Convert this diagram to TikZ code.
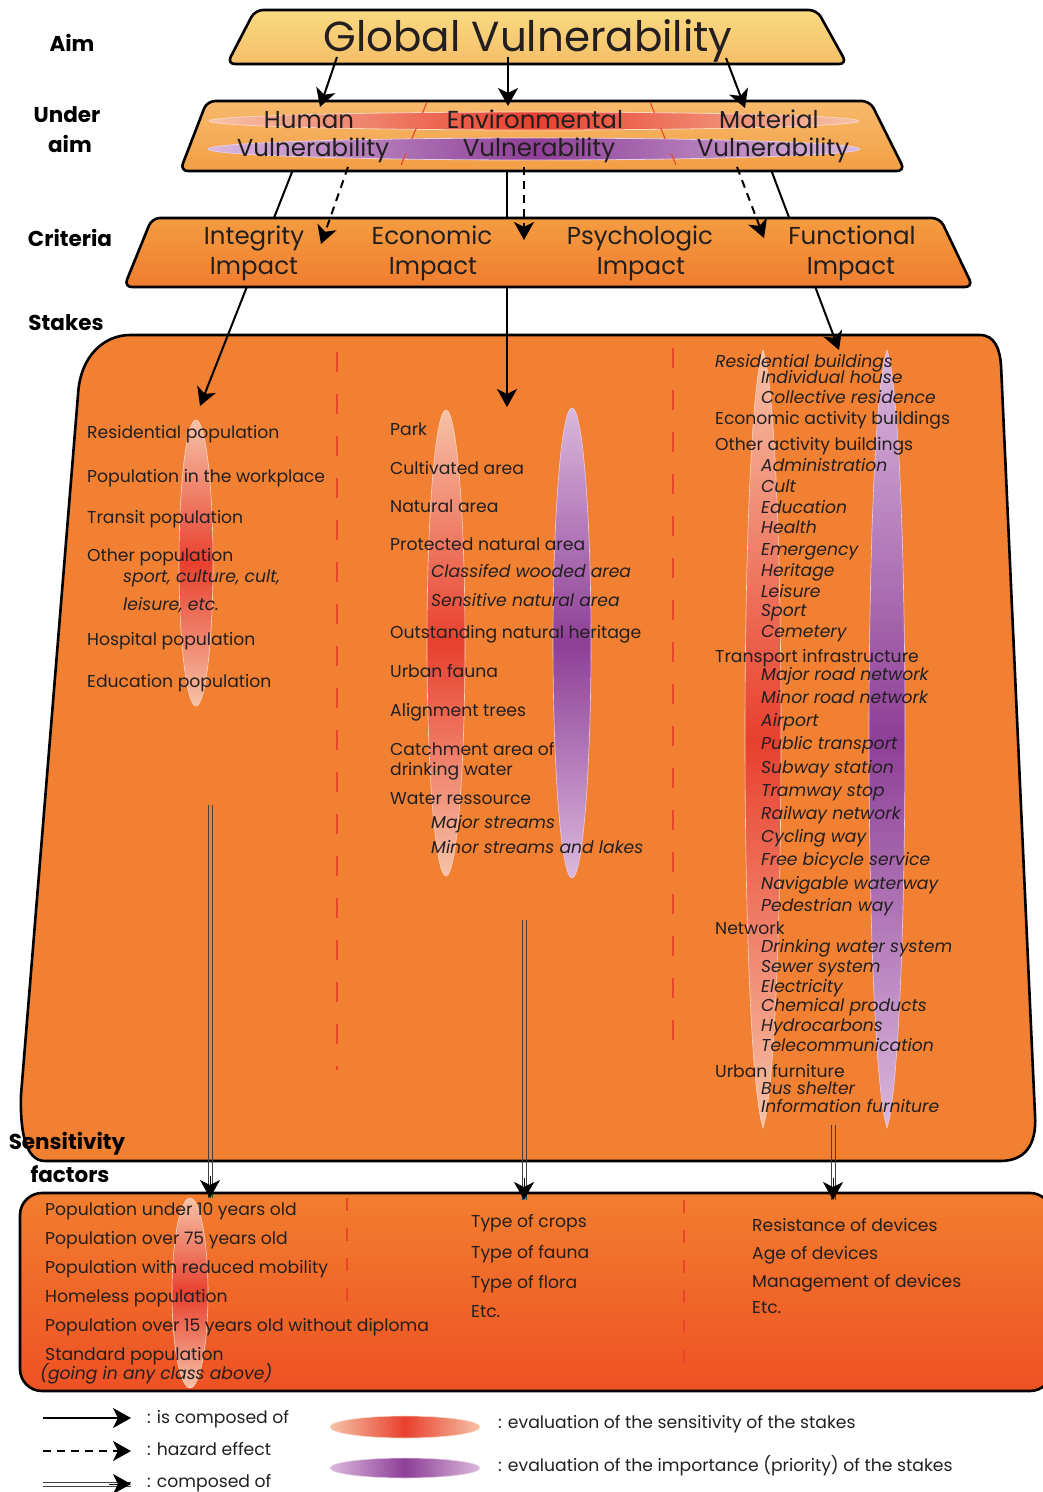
\documentclass[tikz,border=0pt]{standalone}
\usepackage{fontspec}
\setmainfont{Poppins}
\usetikzlibrary{arrows.meta}

\definecolor{gvtop}{HTML}{FADA82}
\definecolor{gvbot}{HTML}{F4BE68}
\definecolor{uatop}{HTML}{F7BA6C}
\definecolor{uabot}{HTML}{F39E44}
\definecolor{crtop}{HTML}{F49C40}
\definecolor{crbot}{HTML}{F07D30}
\definecolor{stkfill}{HTML}{F18032}
\definecolor{sftop}{HTML}{F27E2E}
\definecolor{sfbot}{HTML}{EE5124}
\definecolor{sensred}{HTML}{E8402E}
\definecolor{senslight}{HTML}{F6C2A6}
\definecolor{prioviolet}{HTML}{8E3F97}
\definecolor{priolight}{HTML}{DAB8DC}
\definecolor{sepred}{HTML}{E9452D}
\definecolor{ink}{HTML}{231F20}

\tikzset{
    >={Stealth[length=18pt, width=20pt, inset=5pt]},
    box/.style={draw=black, line width=2.6pt, rounded corners=8},
    lab/.style={font=\fontsize{21.5}{25}\selectfont\bfseries, text=black, inner sep=0},
    head/.style={font=\fontsize{24.5}{29}\selectfont, text=ink, inner sep=0,
        text height=17pt, text depth=0pt},
    stk/.style={anchor=west, font=\fontsize{17.2}{20}\selectfont, text=ink,
        inner sep=0, text height=12pt, text depth=0pt},
    stkit/.style={stk, font=\fontsize{17.2}{20}\selectfont\itshape},
    sep/.style={draw=sepred, line width=1.1pt},
    link/.style={draw=black, line width=2pt, ->},
    hazard/.style={link, dash pattern=on 8pt off 6pt},
    twin/.style={draw=black!75, line width=0.8pt}
}

\begin{document}
\begin{tikzpicture}[x=1pt, y=-1pt]
\useasboundingbox (0,0) rectangle (1043,1492);

% stakes box
    \fill[stkfill] (130,335) -- (980,335) .. controls (995,335) and (1000,350) .. (1001,365)
        -- (1035,1115) .. controls (1037,1145) and (1025,1161) .. (1000,1161)
        -- (45,1161) .. controls (25,1161) and (20,1130) .. (21,1095)
        -- (78,395) .. controls (80,355) and (105,335) .. (130,335) -- cycle;
    \draw[line width=2.6pt] (130,335) -- (980,335) .. controls (995,335) and (1000,350) .. (1001,365)
        -- (1035,1115) .. controls (1037,1145) and (1025,1161) .. (1000,1161)
        -- (45,1161) .. controls (25,1161) and (20,1130) .. (21,1095)
        -- (78,395) .. controls (80,355) and (105,335) .. (130,335) -- cycle;

% sensitivity factors box
    \shade[top color=sftop, bottom color=sfbot, rounded corners=22]
        (20,1193) rectangle (1052,1391);
    \draw[line width=2.6pt, rounded corners=22] (20,1193) rectangle (1052,1391);

% composed-of lines, behind the criteria box
    \coordinate (uh-out) at (294,167);
    \coordinate (ue-out) at (507,167);
    \coordinate (um-out) at (770,167);
    \coordinate (st-h) at (200,406);
    \coordinate (st-e) at (507,407);
    \coordinate (st-m) at (839,350);
    \draw[link] (uh-out) -- (st-h);
    \draw[link] (ue-out) -- (st-e);
    \draw[link] (um-out) -- (st-m);

% aim
    \shade[top color=gvtop, bottom color=gvbot, rounded corners=8]
        (255,10) -- (817,10) -- (847,64) -- (227,64) -- cycle;
    \draw[box] (255,10) -- (817,10) -- (847,64) -- (227,64) -- cycle;
    \node[font=\fontsize{42}{48}\selectfont, text=ink, inner sep=0,
        text height=29pt, text depth=0pt] (gv) at (528,37) {Global Vulnerability};

% under aim
    \shade[top color=uatop, bottom color=uabot, rounded corners=8]
        (207,101) -- (870,101) -- (905,171) -- (180,171) -- cycle;
    \draw[box] (207,101) -- (870,101) -- (905,171) -- (180,171) -- cycle;
    \shade[left color=senslight, right color=senslight, middle color=sensred,
        draw=senslight!70!white, line width=0.8pt] (534,121) ellipse [x radius=325, y radius=9];
    \shade[left color=priolight, right color=priolight, middle color=prioviolet,
        draw=priolight!70!white, line width=0.8pt] (534,149) ellipse [x radius=326, y radius=11];
    \draw[sep, dash pattern=on 12pt off 16pt] (427,102) -- (399,170);
    \draw[sep, dash pattern=on 12pt off 16pt] (650,102) -- (678,170);
    \node[head] (hum) at (309,120) {Human};
    \node[head] (env) at (535,120) {Environmental};
    \node[head] (mat) at (769,120) {Material};
    \node[head] (hum-v) at (313,148) {Vulnerability};
    \node[head] (env-v) at (539,148) {Vulnerability};
    \node[head] (mat-v) at (773,148) {Vulnerability};

% criteria
    \shade[top color=crtop, bottom color=crbot, rounded corners=8]
        (152,218) -- (940,218) -- (973,287) -- (124,287) -- cycle;
    \draw[box] (152,218) -- (940,218) -- (973,287) -- (124,287) -- cycle;
    \node[head] (int) at (254,236) {Integrity};
    \node[head] (int-i) at (254,266) {Impact};
    \node[head] (eco) at (432,236) {Economic};
    \node[head] (eco-i) at (433,266) {Impact};
    \node[head] (psy) at (640,236) {Psychologic};
    \node[head] (psy-i) at (641,266) {Impact};
    \node[head] (fun) at (852,236) {Functional};
    \node[head] (fun-i) at (851,266) {Impact};

% is composed of
    \coordinate (gv-h) at (337,57);
    \coordinate (gv-e) at (508,57);
    \coordinate (gv-m) at (726,58);
    \coordinate (ua-h) at (320,107);
    \coordinate (ua-e) at (508,106);
    \coordinate (ua-m) at (745,108);
    \draw[link] (gv-h) -- (ua-h);
    \draw[link] (gv-e) -- (ua-e);
    \draw[link] (gv-m) -- (ua-m);

% hazard effect
    \coordinate (hz-h0) at (348,167);
    \coordinate (hz-e0) at (524,167);
    \coordinate (hz-m0) at (737,167);
    \coordinate (hz-h1) at (321,244);
    \coordinate (hz-e1) at (524,240);
    \coordinate (hz-m1) at (764,238);
    \draw[hazard] (hz-h0) -- (hz-h1);
    \draw[hazard] (hz-e0) -- (hz-e1);
    \draw[hazard] (hz-m0) -- (hz-m1);

% left labels
    \node[lab] (l-aim) at (72,43) {Aim};
    \node[lab] (l-under) at (67,115) {Under};
    \node[lab] (l-under2) at (70,144) {aim};
    \node[lab] (l-crit) at (70,238) {Criteria};
    \node[lab] (l-stakes) at (66,323) {Stakes};

% stakes: sensitivity and priority marks
    \shade[top color=senslight, bottom color=senslight, middle color=sensred,
        draw=senslight!70!white, line width=0.6pt] (196,563) ellipse [x radius=17, y radius=143];
    \shade[top color=senslight, bottom color=senslight, middle color=sensred,
        draw=senslight!70!white, line width=0.6pt] (446,643) ellipse [x radius=19, y radius=233];
    \shade[top color=priolight, bottom color=priolight, middle color=prioviolet,
        draw=priolight!70!white, line width=0.6pt] (572,643) ellipse [x radius=19, y radius=235];
    \shade[top color=senslight, bottom color=senslight, middle color=sensred,
        draw=senslight!70!white, line width=0.6pt]
        (763,350) .. controls (787,420) and (787,1050) .. (763,1128)
        .. controls (739,1050) and (739,420) .. (763,350) -- cycle;
    \shade[top color=priolight, bottom color=priolight, middle color=prioviolet,
        draw=priolight!70!white, line width=0.6pt]
        (887,350) .. controls (911,420) and (911,1050) .. (887,1128)
        .. controls (863,1050) and (863,420) .. (887,350) -- cycle;

% stakes: column separators
    \draw[sep, dash pattern=on 20pt off 22pt] (337,352) -- (337,1070);
    \draw[sep, dash pattern=on 20pt off 22pt] (673,348) -- (673,1060);

% stakes: human
    \node[stk] (hs1) at (87,432) {Residential population};
    \node[stk] (hs2) at (87,476) {Population in the workplace};
    \node[stk] (hs3) at (87,517) {Transit population};
    \node[stk] (hs4) at (87,555) {Other population};
    \node[stkit] (hs4a) at (123,576) {sport, culture, cult,};
    \node[stkit] (hs4b) at (123,604) {leisure, etc.};
    \node[stk] (hs5) at (87,639) {Hospital population};
    \node[stk] (hs6) at (87,681) {Education population};

% stakes: environmental
    \node[stk] (es1) at (390,429) {Park};
    \node[stk] (es2) at (390,468) {Cultivated area};
    \node[stk] (es3) at (390,506) {Natural area};
    \node[stk] (es4) at (390,544) {Protected natural area};
    \node[stkit] (es4a) at (431,571) {Classifed wooded area};
    \node[stkit] (es4b) at (431,600) {Sensitive natural area};
    \node[stk] (es5) at (390,632) {Outstanding natural heritage};
    \node[stk] (es6) at (390,671) {Urban fauna};
    \node[stk] (es7) at (390,710) {Alignment trees};
    \node[stk] (es8) at (390,749) {Catchment area of};
    \node[stk] (es8b) at (390,769) {drinking water};
    \node[stk] (es9) at (390,798) {Water ressource};
    \node[stkit] (es9a) at (431,822) {Major streams};
    \node[stkit] (es9b) at (431,847) {Minor streams and lakes};

% stakes: material
    \node[stkit] (ms1) at (715,361) {Residential buildings};
    \node[stkit] (ms1a) at (761,377) {Individual house};
    \node[stkit] (ms1b) at (761,397) {Collective residence};
    \node[stk] (ms2) at (715,418) {Economic activity buildings};
    \node[stk] (ms3) at (715,444) {Other activity buildings};
    \node[stkit] (ms3a) at (761,465) {Administration};
    \node[stkit] (ms3b) at (761,486) {Cult};
    \node[stkit] (ms3c) at (761,507) {Education};
    \node[stkit] (ms3d) at (761,527) {Health};
    \node[stkit] (ms3e) at (761,549) {Emergency};
    \node[stkit] (ms3f) at (761,570) {Heritage};
    \node[stkit] (ms3g) at (761,591) {Leisure};
    \node[stkit] (ms3h) at (761,610) {Sport};
    \node[stkit] (ms3i) at (761,631) {Cemetery};
    \node[stk] (ms4) at (715,656) {Transport infrastructure};
    \node[stkit] (ms4a) at (761,674) {Major road network};
    \node[stkit] (ms4b) at (761,697) {Minor road network};
    \node[stkit] (ms4c) at (761,720) {Airport};
    \node[stkit] (ms4d) at (761,743) {Public transport};
    \node[stkit] (ms4e) at (761,767) {Subway station};
    \node[stkit] (ms4f) at (761,790) {Tramway stop};
    \node[stkit] (ms4g) at (761,813) {Railway network};
    \node[stkit] (ms4h) at (761,836) {Cycling way};
    \node[stkit] (ms4i) at (761,859) {Free bicycle service};
    \node[stkit] (ms4j) at (761,883) {Navigable waterway};
    \node[stkit] (ms4k) at (761,905) {Pedestrian way};
    \node[stk] (ms5) at (715,928) {Network};
    \node[stkit] (ms5a) at (761,946) {Drinking water system};
    \node[stkit] (ms5b) at (761,966) {Sewer system};
    \node[stkit] (ms5c) at (761,986) {Electricity};
    \node[stkit] (ms5d) at (761,1005) {Chemical products};
    \node[stkit] (ms5e) at (761,1025) {Hydrocarbons};
    \node[stkit] (ms5f) at (761,1045) {Telecommunication};
    \node[stk] (ms6) at (715,1071) {Urban furniture};
    \node[stkit] (ms6a) at (761,1088) {Bus shelter};
    \node[stkit] (ms6b) at (761,1106) {Information furniture};

% sensitivity factors
    \node[lab] (l-sens) at (67,1144) {Sensitivity};
    \node[lab] (l-sens2) at (70,1174) {factors};
    \shade[top color=senslight, bottom color=senslight, middle color=sensred,
        draw=senslight!70!white, line width=0.6pt] (190,1293) ellipse [x radius=18, y radius=95];
    \draw[sep, dash pattern=on 13pt off 17pt] (347,1198) -- (347,1305);
    \draw[sep, dash pattern=on 13pt off 17pt] (684,1200) -- (684,1372);

    \node[stk] (hf1) at (45,1209) {Population under 10 years old};
    \node[stk] (hf2) at (45,1238) {Population over 75 years old};
    \node[stk] (hf3) at (45,1267) {Population with reduced mobility};
    \node[stk] (hf4) at (45,1296) {Homeless population};
    \node[stk] (hf5) at (45,1325) {Population over 15 years old without diploma};
    \node[stk] (hf6) at (45,1354) {Standard population};
    \node[stkit] (hf6a) at (40,1373) {(going in any class above)};

    \node[stk] (ef1) at (471,1221) {Type of crops};
    \node[stk] (ef2) at (471,1252) {Type of fauna};
    \node[stk] (ef3) at (471,1282) {Type of flora};
    \node[stk] (ef4) at (471,1311) {Etc.};

    \node[stk] (mf1) at (752,1225) {Resistance of devices};
    \node[stk] (mf2) at (752,1253) {Age of devices};
    \node[stk] (mf3) at (752,1281) {Management of devices};
    \node[stk] (mf4) at (752,1307) {Etc.};

% composed of
    \coordinate (d1a) at (210,805);
    \coordinate (d1b) at (210,1198);
    \coordinate (d2a) at (524,920);
    \coordinate (d2b) at (524,1200);
    \coordinate (d3a) at (833,1125);
    \coordinate (d3b) at (833,1200);
    \draw[twin] ([xshift=-2pt]d1a) -- ([xshift=-2pt]d1b);
    \draw[twin] ([xshift=2pt]d1a) -- ([xshift=2pt]d1b);
    \draw[link, line width=0.8pt] ([yshift=22pt]d1b) -- (d1b);
    \draw[twin] ([xshift=-2pt]d2a) -- ([xshift=-2pt]d2b);
    \draw[twin] ([xshift=2pt]d2a) -- ([xshift=2pt]d2b);
    \draw[link, line width=0.8pt] ([yshift=22pt]d2b) -- (d2b);
    \draw[twin] ([xshift=-2pt]d3a) -- ([xshift=-2pt]d3b);
    \draw[twin] ([xshift=2pt]d3a) -- ([xshift=2pt]d3b);
    \draw[link, line width=0.8pt] ([yshift=22pt]d3b) -- (d3b);

% legend
    \coordinate (lg1a) at (43,1418);
    \coordinate (lg1b) at (131,1418);
    \coordinate (lg2a) at (43,1451);
    \coordinate (lg2b) at (131,1451);
    \coordinate (lg3a) at (43,1484);
    \coordinate (lg3b) at (131,1484);
    \draw[link] (lg1a) -- (lg1b);
    \draw[hazard] (lg2a) -- (lg2b);
    \draw[twin] ([yshift=2pt]lg3a) -- ([yshift=2pt]lg3b);
    \draw[twin] ([yshift=-2pt]lg3a) -- ([yshift=-2pt]lg3b);
    \draw[link, line width=0.8pt] ([xshift=-22pt]lg3b) -- (lg3b);
    \node[stk] (lg1) at (147,1417) {: is composed of};
    \node[stk] (lg2) at (147,1449) {: hazard effect};
    \node[stk] (lg3) at (147,1481) {: composed of};
    \shade[left color=senslight, right color=senslight, middle color=sensred,
        draw=senslight!70!white, line width=0.6pt] (405,1427) ellipse [x radius=75, y radius=11];
    \shade[left color=priolight, right color=priolight, middle color=prioviolet,
        draw=priolight!70!white, line width=0.6pt] (405,1468) ellipse [x radius=75, y radius=10];
    \node[stk] (lg4) at (498,1422) {: evaluation of the sensitivity of the stakes};
    \node[stk] (lg5) at (498,1465) {: evaluation of the importance (priority) of the stakes};
\end{tikzpicture}
\end{document}
